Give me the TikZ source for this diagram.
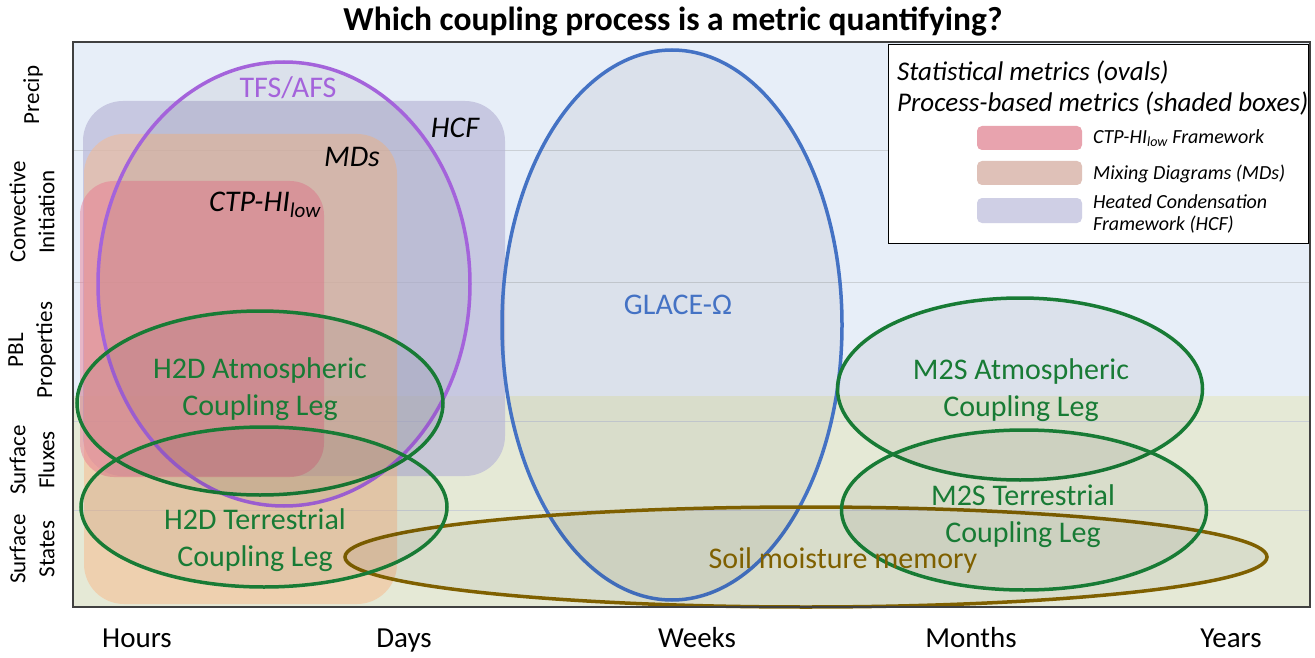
\documentclass[tikz,border=0pt]{standalone}
\usepackage{fontspec}
\setmainfont{Carlito}
\usetikzlibrary{shapes.geometric}
\definecolor{bgblue}{HTML}{E7EEF8}
\definecolor{bgland}{HTML}{E5E9D6}
\definecolor{gridc}{HTML}{CBD0D6}
\definecolor{hcfc}{HTML}{B7B5D6}
\definecolor{mdsc}{HTML}{F8B98A}
\definecolor{ctpc}{HTML}{E8728C}
\definecolor{purp}{HTML}{A463DB}
\definecolor{glaceblue}{HTML}{4472C4}
\definecolor{leggreen}{HTML}{187B35}
\definecolor{soilbrown}{HTML}{7F6000}
\definecolor{framec}{HTML}{404040}
\definecolor{swctp}{HTML}{E8A3AE}
\definecolor{swmds}{HTML}{DFC1B8}
\definecolor{swhcf}{HTML}{CFCFE5}
\tikzset{
  oval/.style={ellipse, inner sep=0pt, line width=3.5pt, fill=black, fill opacity=0.05, draw opacity=1},
  bigtxt/.style={font=\fontsize{30}{37}\selectfont, align=center, inner sep=0pt},
  axtxt/.style={font=\fontsize{29}{35}\selectfont, inner sep=0pt, anchor=base},
  sidetxt/.style={font=\fontsize{23}{29}\selectfont, rotate=90, align=center, inner sep=0pt},
  leghead/.style={font=\fontsize{27}{31}\itshape\selectfont, anchor=west, inner sep=0pt},
  legitem/.style={font=\fontsize{20}{22}\itshape\selectfont, anchor=west, align=left, inner sep=0pt},
  swatch/.style={rounded corners=5pt},
  procbox/.style={rounded corners=40pt}
}
\begin{document}
\begin{tikzpicture}[x=1pt,y=-1pt]
\useasboundingbox (0,0) rectangle (1315,658);
\fill[white] (0,0) rectangle (1315,658);
% backgrounds
\fill[bgblue] (73,42) rectangle (1310,396);
\fill[bgland] (73,396) rectangle (1310,607);
% grid lines
\foreach \yy in {151,282,421,510} \draw[gridc, line width=1pt] (73,\yy) -- (1310,\yy);
% process boxes
\fill[procbox, hcfc, fill opacity=0.65] (83,101) rectangle (505,476);
\fill[procbox, mdsc, fill opacity=0.5] (84,134) rectangle (397,604);
\fill[procbox, rounded corners=34pt, ctpc, fill opacity=0.45] (80,181) rectangle (324,477);
% box labels
\node[bigtxt, font=\fontsize{30}{37}\itshape\selectfont] (hcflab) at (455,128) {HCF};
\node[bigtxt, font=\fontsize{30}{37}\itshape\selectfont] (mdslab) at (352,157) {MDs};
\node[bigtxt, font=\fontsize{30}{37}\itshape\selectfont] (ctplab) at (265,205) {CTP-HI\textsubscript{low}};
% ovals
\node[oval, draw=purp, minimum width=372pt, minimum height=444pt] (tfs) at (284,284) {};
\node[oval, draw=glaceblue, minimum width=340pt, minimum height=550pt] (glace) at (672,325) {};
\node[oval, draw=soilbrown, minimum width=922pt, minimum height=100pt] (soil) at (806,557) {};
\node[oval, draw=leggreen, minimum width=366pt, minimum height=184pt] (h2da) at (260,403) {};
\node[oval, draw=leggreen, minimum width=366pt, minimum height=160pt] (h2dt) at (264,507) {};
\node[oval, draw=leggreen, minimum width=365pt, minimum height=182pt] (m2sa) at (1020,389) {};
\node[oval, draw=leggreen, minimum width=365pt, minimum height=160pt] (m2st) at (1024,510) {};
% oval labels
\node[bigtxt, text=purp] (tfslab) at (288,88) {TFS/AFS};
\node[bigtxt, text=glaceblue] (glacelab) at (678,305) {GLACE-Ω};
\node[bigtxt, text=soilbrown] (soillab) at (843,560) {Soil moisture memory};
\node[bigtxt, text=leggreen] (h2dalab) at (260,389) {H2D Atmospheric\\Coupling Leg};
\node[bigtxt, text=leggreen] (h2dtlab) at (255,540) {H2D Terrestrial\\Coupling Leg};
\node[bigtxt, text=leggreen] (m2salab) at (1021,390) {M2S Atmospheric\\Coupling Leg};
\node[bigtxt, text=leggreen] (m2stlab) at (1023,516) {M2S Terrestrial\\Coupling Leg};
% frame
\draw[framec, line width=1.6pt] (73,42) rectangle (1310,607);
% legend
\node[draw=black, line width=1pt, fill=white, minimum width=420pt, minimum height=198pt, inner sep=0pt] (legend) at (1098,144) {};
\node[leghead] (lh1) at (897,72) {Statistical metrics (ovals)};
\node[leghead] (lh2) at (897,103) {Process-based metrics (shaded boxes)};
\fill[swatch, swctp] (977,126) rectangle (1082,150);
\fill[swatch, swmds] (977,161) rectangle (1082,185);
\fill[swatch, swhcf] (977,198) rectangle (1082,223);
\node[legitem] (li1) at (1093,138) {CTP-HI\textsubscript{low} Framework};
\node[legitem] (li2) at (1093,174) {Mixing Diagrams (MDs)};
\node[legitem] (li3) at (1093,214) {Heated Condensation\\Framework (HCF)};
% title
\node[font=\fontsize{33.5}{40}\bfseries\selectfont, inner sep=0pt] (title) at (673,22) {Which coupling process is a metric quantifying?};
% side labels
\node[sidetxt] (s1) at (33,95) {Precip};
\node[sidetxt] (s2) at (32,212) {Convective\\Initiation};
\node[sidetxt] (s3) at (32,350) {PBL\\Properties};
\node[sidetxt] (s4) at (32,460) {Surface\\Fluxes};
\node[sidetxt] (s5) at (32,549) {Surface\\States};
% axis labels
\node[axtxt] (t1) at (137,647) {Hours};
\node[axtxt] (t2) at (404,647) {Days};
\node[axtxt] (t3) at (697,647) {Weeks};
\node[axtxt] (t4) at (971,647) {Months};
\node[axtxt] (t5) at (1231,647) {Years};
\end{tikzpicture}
\end{document}
